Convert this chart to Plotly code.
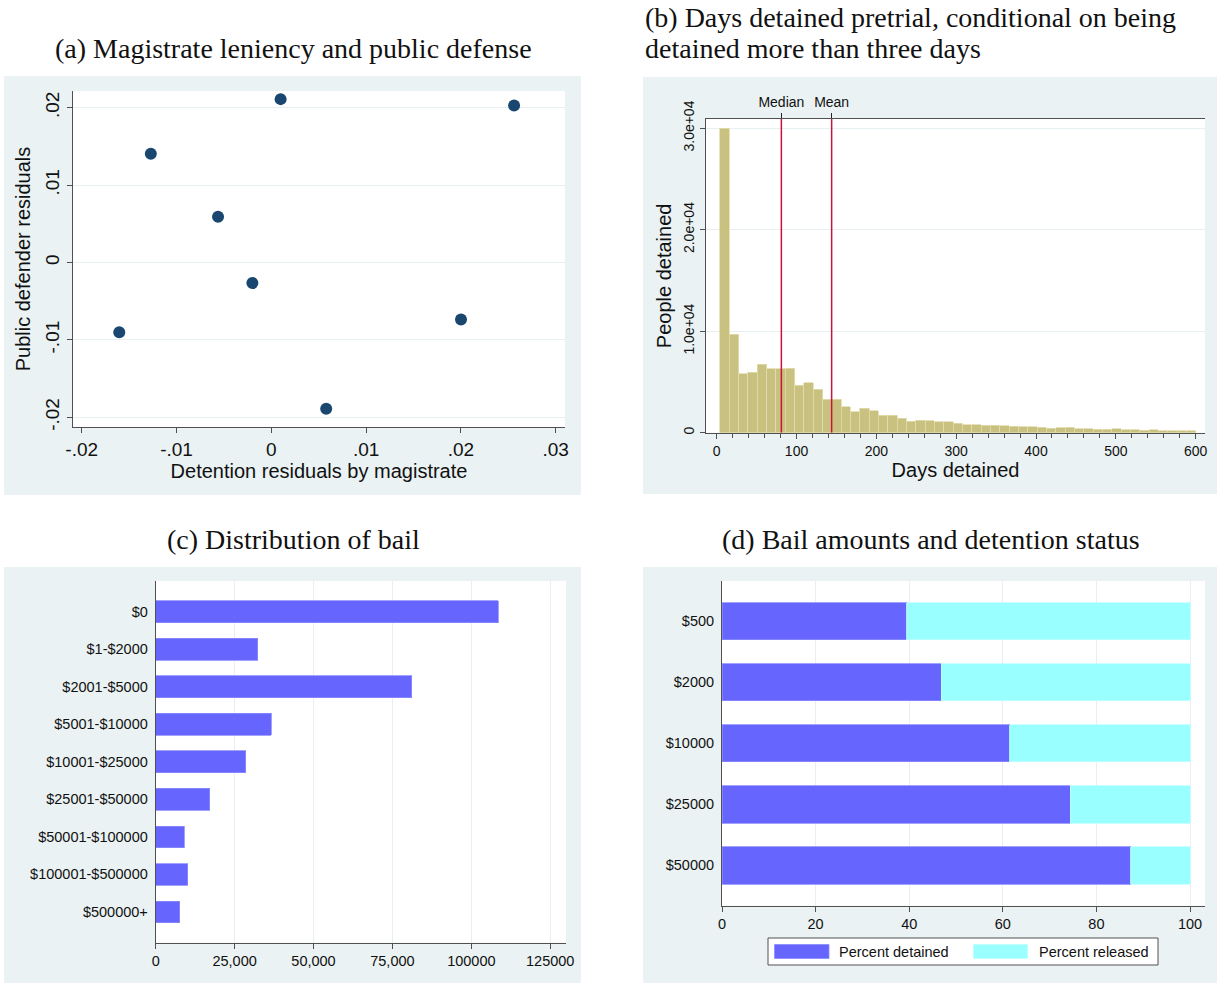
import plotly.graph_objects as go

# ---------------- data ----------------
# (a) Magistrate leniency and public defense
detention_resid = [0.00098, -0.01271, -0.00562, -0.00200, -0.01604, 0.02561, 0.02001, 0.00579]
defender_resid = [0.02111, 0.01404, 0.00590, -0.00266, -0.00901, 0.02030, -0.00736, -0.01890]
a_xticks = [-0.02, -0.01, 0, 0.01, 0.02, 0.03]
a_xlabels = ["-.02", "-.01", "0", ".01", ".02", ".03"]
a_yticks = [-0.02, -0.01, 0, 0.01, 0.02]
a_ylabels = ["-.02", "-.01", "0", ".01", ".02"]

# (b) Days detained pretrial (histogram, 51 bins from 4 to 600 days)
hist_start = 4
hist_end = 600
people_detained = [30000, 9700, 5800, 5950, 6750, 6300, 6300, 6350, 4650, 4900,
                   4300, 3300, 3300, 2550, 2050, 2400, 2150, 1700, 1700, 1400,
                   1150, 1250, 1180, 1080, 1080, 920, 790, 790, 740, 720,
                   700, 660, 590, 580, 550, 440, 490, 520, 400, 390,
                   340, 330, 390, 300, 270, 260, 300, 210, 200, 200, 190]
median_days = 81
mean_days = 144
b_yticks = [0, 10000, 20000, 30000]
b_ylabels = ["0", "1.0e+04", "2.0e+04", "3.0e+04"]
b_xticks = [0, 100, 200, 300, 400, 500, 600]

# (c) Distribution of bail
bail_bins = ["$0", "$1-$2000", "$2001-$5000", "$5001-$10000", "$10001-$25000",
             "$25001-$50000", "$50001-$100000", "$100001-$500000", "$500000+"]
bail_counts = [108500, 32300, 81200, 36600, 28600, 17100, 9100, 10200, 7600]
c_xticks = [0, 25000, 50000, 75000, 100000, 125000]
c_xlabels = ["0", "25,000", "50,000", "75,000", "100000", "125000"]

# (d) Bail amounts and detention status
bail_amounts = ["$500", "$2000", "$10000", "$25000", "$50000"]
pct_detained = [39.5, 46.8, 61.5, 74.4, 87.3]
pct_released = [60.5, 53.2, 38.5, 25.6, 12.7]
d_xticks = [0, 20, 40, 60, 80, 100]

# ---------------- geometry helpers ----------------
W, H = 1225, 984
def PX(x):
    return x / W
def PY(y):
    return 1 - y / H

BG = "#eaf2f3"
GRID = "#e6eff1"
AXC = "#505050"
PURPLE = "#6666ff"
CYAN = "#99ffff"
SAND = "#c9c17f"
NAVY = "#1a476f"
SANS = "Liberation Sans"
SERIF = "Liberation Serif"

n_bins = len(people_detained)
bin_w = (hist_end - hist_start) / n_bins
bin_centers = [hist_start + bin_w * (i + 0.5) for i in range(n_bins)]
b_ymax = 30900

fig = go.Figure()

# (a) scatter
fig.add_trace(go.Scatter(x=detention_resid, y=defender_resid, mode="markers",
                         marker=dict(color=NAVY, size=12, line=dict(width=0)),
                         xaxis="x", yaxis="y", showlegend=False))

# (b) median / mean lines (behind bars), on top axis
fig.add_trace(go.Scatter(x=[median_days, median_days, None, mean_days, mean_days],
                         y=[0, b_ymax, None, 0, b_ymax], mode="lines",
                         line=dict(color="#c8143c", width=1.5),
                         xaxis="x3", yaxis="y2", showlegend=False))
fig.add_trace(go.Bar(x=bin_centers, y=people_detained, width=bin_w,
                     marker=dict(color=SAND, line=dict(color="#e2dcae", width=0.8)),
                     xaxis="x2", yaxis="y2", showlegend=False))

# (c) horizontal bars
fig.add_trace(go.Bar(y=bail_bins, x=bail_counts, orientation="h", width=0.58,
                     marker=dict(color=PURPLE, line=dict(color="#8c8cff", width=0.8)),
                     xaxis="x4", yaxis="y4", showlegend=False))

# (d) stacked bars
fig.add_trace(go.Bar(y=bail_amounts, x=pct_detained, orientation="h", width=0.61,
                     name="Percent detained",
                     marker=dict(color=PURPLE, line=dict(color="#8c8cff", width=0.8)),
                     xaxis="x5", yaxis="y5", showlegend=False))
fig.add_trace(go.Bar(y=bail_amounts, x=pct_released, orientation="h", width=0.61,
                     name="Percent released",
                     marker=dict(color=CYAN, line=dict(color="#bfffff", width=0.8)),
                     xaxis="x5", yaxis="y5", showlegend=False))

axis_common = dict(showline=True, linecolor=AXC, linewidth=1, ticks="outside",
                   tickcolor=AXC, ticklen=5, zeroline=False, gridcolor=GRID,
                   gridwidth=1, tickfont=dict(family=SANS, size=14, color="#111"),
                   automargin=False)

shapes = []
# panel backgrounds
for (x0, y0, x1, y1) in [(4, 76, 581, 495), (643, 77, 1217, 494),
                         (4, 567, 581, 983), (643, 567, 1217, 983)]:
    shapes.append(dict(type="rect", xref="paper", yref="paper", layer="below",
                       x0=PX(x0), x1=PX(x1), y0=PY(y1), y1=PY(y0),
                       fillcolor=BG, line=dict(width=0)))
# white plot areas
dom_a = (73, 91, 565, 427)
dom_b = (706, 119, 1205, 432.7)
dom_c = (155.7, 581, 566, 942.7)
dom_d = (722, 581, 1205, 905.7)
for (x0, y0, x1, y1) in [dom_a, dom_b, dom_c, dom_d]:
    shapes.append(dict(type="rect", xref="paper", yref="paper", layer="below",
                       x0=PX(x0), x1=PX(x1), y0=PY(y1), y1=PY(y0),
                       fillcolor="white", line=dict(width=0)))

# manual legend for (d)
shapes.append(dict(type="rect", xref="paper", yref="paper", x0=PX(768), x1=PX(1158),
                   y0=PY(965), y1=PY(938), fillcolor="white", line=dict(color=AXC, width=1)))
shapes.append(dict(type="rect", xref="paper", yref="paper", x0=PX(774.5), x1=PX(829),
                   y0=PY(958.5), y1=PY(944.5), fillcolor=PURPLE, line=dict(color="#8c8cff", width=0.8)))
shapes.append(dict(type="rect", xref="paper", yref="paper", x0=PX(973.5), x1=PX(1027.5),
                   y0=PY(958.5), y1=PY(944.5), fillcolor=CYAN, line=dict(color="#bfffff", width=0.8)))

def dom(d):
    x0, y0, x1, y1 = d
    return [PX(x0), PX(x1)], [PY(y1), PY(y0)]

ax_x, ax_y = dom(dom_a)
bx_x, bx_y = dom(dom_b)
cx_x, cx_y = dom(dom_c)
dx_x, dx_y = dom(dom_d)

layout = dict(
    width=W, height=H, margin=dict(l=0, r=0, t=0, b=0),
    paper_bgcolor="white", plot_bgcolor="white",
    font=dict(family=SANS, color="#111"),
    barmode="stack", showlegend=False, shapes=shapes,
)

# (a)
layout["xaxis"] = dict(axis_common, domain=ax_x, anchor="y", range=[-0.02092, 0.03098],
                       tickvals=a_xticks, ticktext=a_xlabels, showgrid=False,
                       tickfont=dict(family=SANS, size=19, color="#111"),
                       title=dict(text="Detention residuals by magistrate",
                                  font=dict(family=SANS, size=20, color="#111"), standoff=4))
layout["yaxis"] = dict(axis_common, domain=ax_y, anchor="x", range=[-0.02125, 0.02216],
                       tickvals=a_yticks, ticktext=a_ylabels, showgrid=True, tickangle=-90,
                       tickfont=dict(family=SANS, size=19, color="#111"),
                       title=dict(text="Public defender residuals",
                                  font=dict(family=SANS, size=20, color="#111"), standoff=6))
# (b)
layout["xaxis2"] = dict(axis_common, domain=bx_x, anchor="y2", range=[-13.4, 611.7],
                        tickvals=b_xticks, showgrid=False,
                        minor=dict(dtick=20, tick0=0, ticks="outside", ticklen=4,
                                   tickcolor=AXC, showgrid=False),
                        title=dict(text="Days detained",
                                   font=dict(family=SANS, size=20, color="#111"), standoff=0))
layout["xaxis3"] = dict(showline=True, linecolor=AXC, linewidth=1, ticks="outside",
                        tickcolor="#222", ticklen=5, zeroline=False, showgrid=False,
                        overlaying="x2", anchor="y2", side="top", range=[-13.4, 611.7],
                        tickvals=[median_days, mean_days], ticktext=["Median", "Mean"],
                        tickfont=dict(family=SANS, size=14, color="#111"), automargin=False)
layout["yaxis2"] = dict(axis_common, domain=bx_y, anchor="x2", range=[0, b_ymax],
                        tickvals=b_yticks, ticktext=b_ylabels, showgrid=True, tickangle=-90,
                        title=dict(text="People detained",
                                   font=dict(family=SANS, size=20, color="#111"), standoff=4))
# (c)
layout["xaxis4"] = dict(axis_common, domain=cx_x, anchor="y4", range=[0, 130000],
                        tickvals=c_xticks, ticktext=c_xlabels, showgrid=True,
                        tickfont=dict(family=SANS, size=14.5, color="#111"))
layout["yaxis4"] = dict(axis_common, domain=cx_y, anchor="x4", type="category",
                        range=[len(bail_bins) - 1 + 0.82, -0.82], ticks="", showgrid=False,
                        tickfont=dict(family=SANS, size=14.5, color="#111"), ticklabelstandoff=4)
# (d)
layout["xaxis5"] = dict(axis_common, domain=dx_x, anchor="y5", range=[0, 103.2],
                        tickvals=d_xticks, showgrid=True,
                        tickfont=dict(family=SANS, size=14.5, color="#111"))
layout["yaxis5"] = dict(axis_common, domain=dx_y, anchor="x5", type="category",
                        range=[len(bail_amounts) - 1 + 0.66, -0.66], ticks="", showgrid=False,
                        tickfont=dict(family=SANS, size=14.5, color="#111"), ticklabelstandoff=4)

tfont = dict(family=SERIF, size=28, color="#111")
layout["annotations"] = [
    dict(text="(a) Magistrate leniency and public defense", xref="paper", yref="paper",
         x=PX(293), y=PY(48), xanchor="center", yanchor="middle", showarrow=False, font=tfont),
    dict(text="(b) Days detained pretrial, conditional on being", xref="paper", yref="paper",
         x=PX(643), y=PY(17), xanchor="left", yanchor="middle", showarrow=False, font=tfont),
    dict(text="detained more than three days", xref="paper", yref="paper",
         x=PX(643), y=PY(48), xanchor="left", yanchor="middle", showarrow=False, font=tfont),
    dict(text="(c) Distribution of bail", xref="paper", yref="paper",
         x=PX(293), y=PY(539), xanchor="center", yanchor="middle", showarrow=False, font=tfont),
    dict(text="(d) Bail amounts and detention status", xref="paper", yref="paper",
         x=PX(931), y=PY(539), xanchor="center", yanchor="middle", showarrow=False, font=tfont),
    dict(text="Percent detained", xref="paper", yref="paper", x=PX(837), y=PY(952),
         xanchor="left", yanchor="middle", showarrow=False,
         font=dict(family=SANS, size=14.5, color="#111")),
    dict(text="Percent released", xref="paper", yref="paper", x=PX(1036.5), y=PY(952),
         xanchor="left", yanchor="middle", showarrow=False,
         font=dict(family=SANS, size=14.5, color="#111")),
]

fig.update_layout(layout)
fig.write_html("out.html", config={"displayModeBar": False},
               post_script="document.body.style.margin='0px';document.body.style.overflow='hidden';")
